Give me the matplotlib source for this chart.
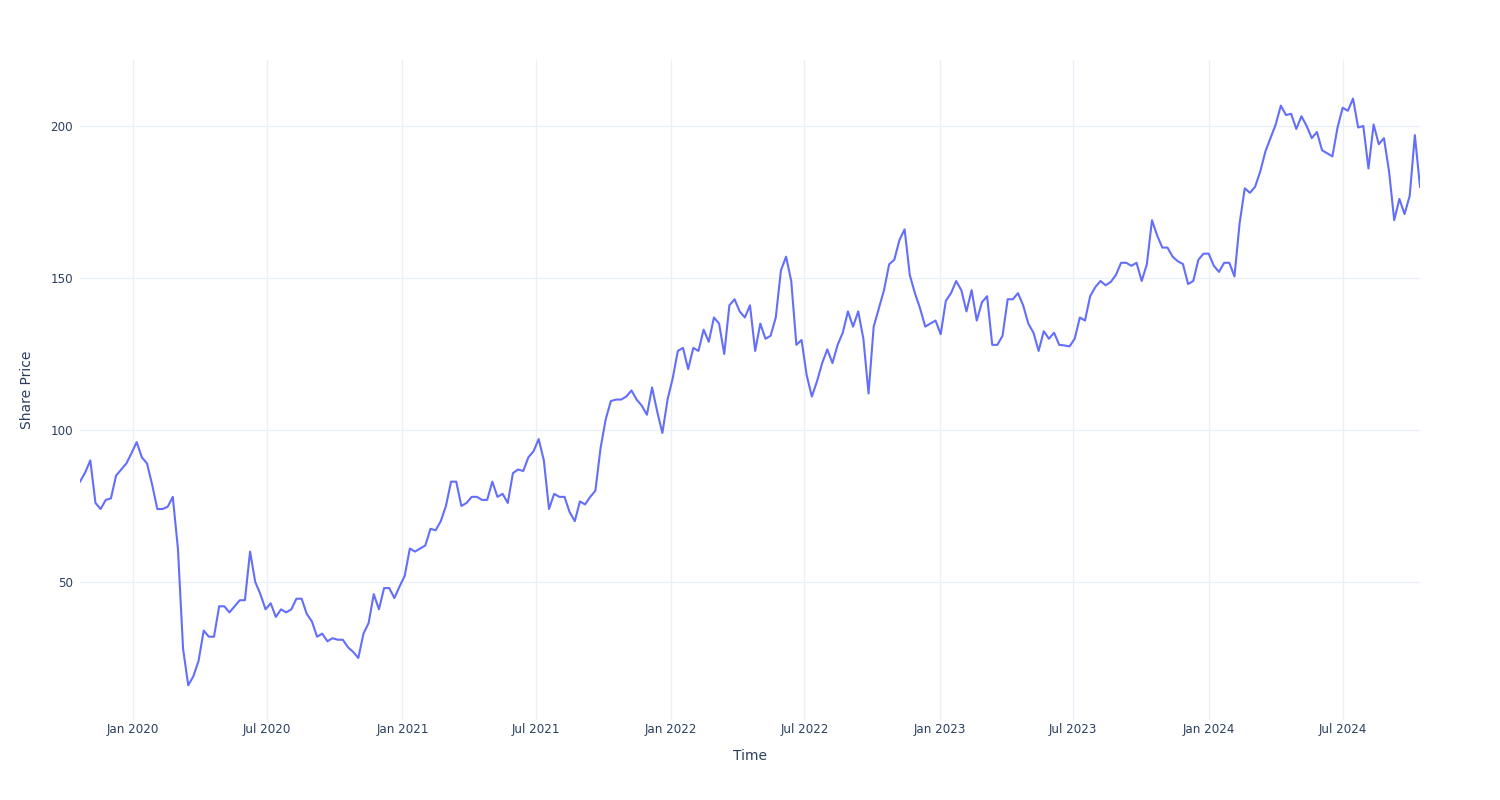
import numpy as np
import pandas as pd
import matplotlib
matplotlib.use("Agg")
import matplotlib.pyplot as plt
import matplotlib.dates as mdates

# harga penutupan mingguan
start_date = "2019-10-21"
prices = [
    83, 86, 90, 76, 74, 77, 77.5, 85, 87, 89,
    92.4, 96, 91, 89, 82, 74, 74, 74.7, 78, 61,
    28, 16, 19, 24, 34, 32, 32, 42, 42, 40,
    42, 44, 44, 60, 50, 46, 41, 43, 38.5, 41,
    40, 41, 44.5, 44.5, 39.5, 37, 32, 33, 30.5, 31.5,
    31, 31, 28.5, 27, 25, 33, 36.5, 46, 41, 48,
    48, 44.7, 48.5, 52, 61, 60, 61, 62, 67.5, 67,
    70, 75, 83, 83, 75, 76, 78, 78, 77, 77,
    83, 78, 79, 76, 85.8, 87, 86.5, 91, 93, 97,
    90, 74, 79, 78, 78, 73, 70, 76.5, 75.5, 78,
    80, 94, 103.5, 109.5, 110, 110, 111, 113, 110, 108,
    105, 114, 106, 99, 110, 117, 126, 127, 120, 127,
    126, 133, 129, 137, 135, 125, 141, 143, 139, 137,
    141, 126, 135, 130, 131, 137, 152.5, 157, 149, 128,
    129.6, 118, 111, 116, 122, 126.5, 122, 128, 132, 139,
    134, 139, 130, 112, 134, 140, 146, 154.5, 156, 162.5,
    166, 151, 145, 140, 134, 135, 136, 131.5, 142.5, 145,
    149, 146, 139, 146, 136, 142, 144, 128, 128, 131,
    143, 143, 145, 141, 135, 132, 126, 132.5, 130, 132,
    128, 127.8, 127.5, 130, 137, 136, 144, 147, 149, 147.6,
    148.7, 151, 155, 155, 154, 155, 149, 154.5, 169, 164,
    160, 160, 157, 155.5, 154.6, 148, 149, 156, 158, 158,
    154, 152, 155, 155, 150.5, 168, 179.5, 178, 180, 185,
    191.6, 196, 200.5, 206.7, 203.6, 204, 199, 203.2, 200, 196,
    198, 192, 191, 190, 199.5, 206, 205, 209, 199.5, 200,
    186, 200.5, 194, 196, 185, 169, 176, 171, 177, 197,
    180,
]
dates = pd.date_range(start_date, periods=len(prices), freq="7D")

y_ticks = [50, 100, 150, 200]
x_ticks = pd.date_range("2020-01-01", "2024-07-01", freq="6MS")

text_col = "#2a3f5f"
grid_col = "#EBF0F8"

fig = plt.figure(figsize=(15, 8), dpi=100)
ax = fig.add_axes([80/1500, 80/800, 1340/1500, 660/800])

ax.plot(dates, prices, color="#636EFA", lw=1.5)

ax.set_xlim(dates[0], dates[-1])
ax.set_ylim(4.6, 221.7)
ax.set_yticks(y_ticks)
ax.set_xticks(x_ticks)
ax.xaxis.set_major_formatter(mdates.DateFormatter("%b %Y"))
ax.grid(True, color=grid_col, lw=1)
ax.set_axisbelow(True)
for s in ax.spines.values():
    s.set_visible(False)
ax.tick_params(length=0, labelsize=8.6, labelcolor=text_col)
ax.tick_params(axis="y", pad=5)
ax.tick_params(axis="x", pad=2)

fig.text(750/1500, 1-756/800, "Time", ha="center", va="center", fontsize=10, color=text_col)
fig.text(27/1500, 1-390/800, "Share Price", ha="center", va="center", rotation=90,
         fontsize=10, color=text_col)

plt.savefig("out.png", dpi=100, facecolor="white")
